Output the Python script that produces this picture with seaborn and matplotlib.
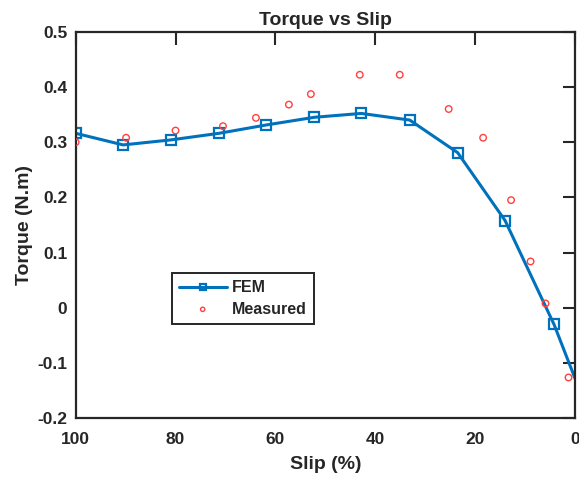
import numpy as np
import pandas as pd
import matplotlib
matplotlib.use("Agg")
import matplotlib.pyplot as plt
import seaborn as sns

# FEM simulation: torque (N.m) vs slip (%)
fem_slip = [100.0, 90.5, 81.0, 71.3, 61.9, 52.2, 42.8, 33.1, 23.5, 14.0, 4.2, -5.4]
fem_torque = [0.316, 0.295, 0.304, 0.316, 0.331, 0.345, 0.352, 0.340, 0.281, 0.158, -0.030, -0.253]

# Bench measurements
meas_slip = [100.0, 89.9, 80.0, 70.5, 63.9, 57.3, 52.9, 43.1, 35.1, 25.3, 18.4, 12.8, 8.9, 5.9, 1.3]
meas_torque = [0.300, 0.308, 0.321, 0.329, 0.344, 0.368, 0.387, 0.422, 0.422, 0.360, 0.308, 0.195, 0.084, 0.008, -0.126]

x_ticks = [100, 80, 60, 40, 20, 0]
y_ticks = [-0.2, -0.1, 0.0, 0.1, 0.2, 0.3, 0.4, 0.5]
y_tick_labels = ["-0.2", "-0.1", "0", "0.1", "0.2", "0.3", "0.4", "0.5"]

fem = pd.DataFrame({"slip": fem_slip, "torque": fem_torque})
meas = pd.DataFrame({"slip": meas_slip, "torque": meas_torque})

sns.set_style("white")
plt.rcParams["font.family"] = ["Liberation Sans", "DejaVu Sans"]
plt.rcParams["font.weight"] = "bold"

fig = plt.figure(figsize=(5.79, 4.80), dpi=100)
ax = fig.add_axes([0.1307, 0.1285, 0.8624, 0.8055])

blue = "#0072BD"
red = "#FF4040"

sns.lineplot(data=fem, x="slip", y="torque", ax=ax, color=blue, linewidth=2.2,
             marker="s", markersize=6.5, markerfacecolor="none",
             markeredgecolor=blue, markeredgewidth=1.6, sort=False,
             label="FEM", estimator=None)
sns.scatterplot(data=meas, x="slip", y="torque", ax=ax, marker="o", s=22,
                facecolors="none", edgecolor=red, linewidth=1.0,
                label="Measured", zorder=3)

ax.set_xlim(100, 0)
ax.set_ylim(-0.2, 0.5)
ax.set_xticks(x_ticks)
ax.set_xticklabels([str(v) for v in x_ticks])
ax.set_yticks(y_ticks)
ax.set_yticklabels(y_tick_labels)

for s in ax.spines.values():
    s.set_visible(True)
    s.set_color("#262626")
    s.set_linewidth(1.6)

ax.tick_params(direction="in", length=9, width=1.5, color="#262626",
               top=True, right=True, labelsize=12.5)
ax.tick_params(axis="x", pad=10)
ax.tick_params(axis="y", pad=6)
for lab in ax.get_xticklabels() + ax.get_yticklabels():
    lab.set_fontweight("bold")
    lab.set_color("#262626")

ax.set_xlabel("Slip (%)", fontsize=14, fontweight="bold", labelpad=6)
ax.set_ylabel("Torque (N.m)", fontsize=14, fontweight="bold", labelpad=3)
ax.set_title("Torque vs Slip", fontsize=14, fontweight="bold", pad=5)

leg = ax.legend(loc="upper left", bbox_to_anchor=(0.192, 0.376), borderaxespad=0,
                frameon=True, fancybox=False, edgecolor="#262626", framealpha=1,
                prop={"weight": "bold", "size": 11.5}, handlelength=3.0,
                markerscale=0.65, borderpad=0.45, labelspacing=0.4,
                handletextpad=0.3)
leg.get_frame().set_linewidth(1.4)

fig.savefig("out.png", dpi=100)
